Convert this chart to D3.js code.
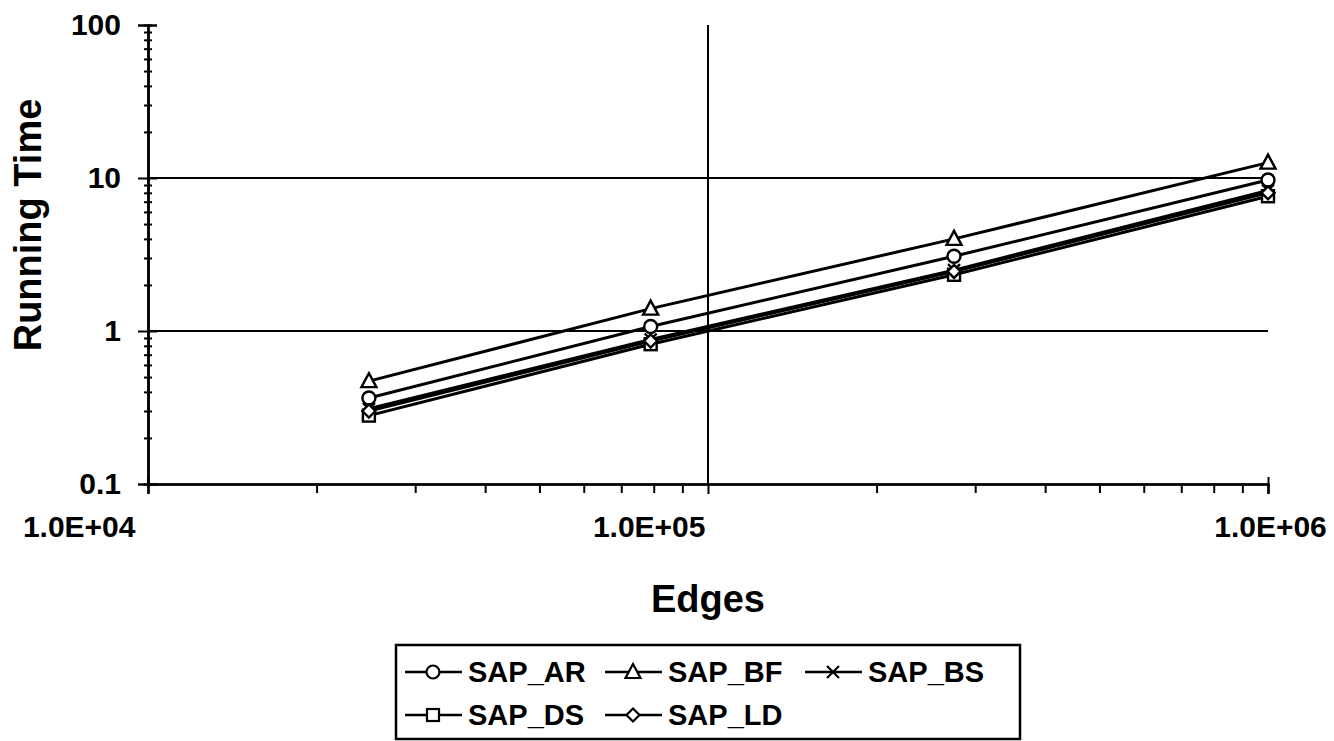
<!DOCTYPE html>
<html>
<head>
<meta charset="utf-8">
<script src="https://cdnjs.cloudflare.com/ajax/libs/d3/7.8.5/d3.min.js"></script>
<style>
  body { margin: 0; background: #fff; }
  svg { display: block; font-family: "Liberation Sans", Arial, sans-serif; font-weight: bold; }
</style>
</head>
<body>
<svg width="1334" height="741"></svg>
<script>
// values
var edges = [24800, 79000, 275000, 1000000];
var seriesNames = ["SAP_AR", "SAP_BF", "SAP_BS", "SAP_DS", "SAP_LD"];
var sapAR = [0.365, 1.07, 3.08, 9.7];
var sapBF = [0.47, 1.40, 4.0, 12.6];
var sapBS = [0.31, 0.88, 2.5, 8.3];
var sapDS = [0.28, 0.82, 2.33, 7.6];
var sapLD = [0.30, 0.86, 2.45, 8.0];
var yTicks = [0.1, 1, 10, 100];
var xTicks = [1e4, 1e5, 1e6];
var xTickLabels = ["1.0E+04", "1.0E+05", "1.0E+06"];

var seriesValues = [sapAR, sapBF, sapBS, sapDS, sapLD];
var markers = ["circle", "triangle", "cross", "square", "diamond"];

var svg = d3.select("svg");

var x = d3.scaleLog().domain([1e4, 1e6]).range([148, 1268]);
var y = d3.scaleLog().domain([0.1, 100]).range([484, 25]);

var minorX = [], minorY = [];
[1e4, 1e5].forEach(function(d) { for (var i = 2; i < 10; i++) minorX.push(d * i); });
[0.1, 1, 10].forEach(function(d) { for (var i = 2; i < 10; i++) minorY.push(d * i); });

// gridlines
svg.append("g").selectAll("line")
  .data([1, 10]).enter().append("line")
  .attr("x1", x(1e4)).attr("x2", x(1e6))
  .attr("y1", function(d) { return y(d); }).attr("y2", function(d) { return y(d); })
  .style("stroke", "#000").style("stroke-width", 2);
svg.append("line")
  .attr("x1", x(1e5)).attr("x2", x(1e5))
  .attr("y1", y(100)).attr("y2", y(0.1))
  .style("stroke", "#000").style("stroke-width", 2);

// y axis
var yAxisG = svg.append("g")
  .attr("transform", "translate(" + x(1e4) + ",0)")
  .call(d3.axisLeft(y).tickValues(yTicks).tickSize(10).tickPadding(17)
    .tickFormat(function(d) { return d < 1 ? "0.1" : d3.format("d")(d); }));
yAxisG.append("g").call(d3.axisRight(y).tickValues(yTicks).tickSize(9).tickFormat(""));
yAxisG.append("g").call(d3.axisRight(y).tickValues(minorY).tickSize(4).tickFormat(""));
yAxisG.append("g").call(d3.axisLeft(y).tickValues(minorY).tickSize(4).tickFormat(""));

// x axis
var xAxisG = svg.append("g")
  .attr("transform", "translate(0," + y(0.1) + ")")
  .call(d3.axisBottom(x).tickValues(xTicks).tickSize(10).tickPadding(22)
    .tickFormat(function(d, i) { return xTickLabels[i]; }));
xAxisG.append("g").call(d3.axisBottom(x).tickValues(minorX).tickSize(9).tickFormat(""));
xAxisG.append("g").call(d3.axisTop(x).tickValues([1e4]).tickSize(7).tickFormat(""));

svg.selectAll(".domain").style("stroke", "#000").style("stroke-width", 2);
svg.selectAll(".tick line").style("stroke", "#000").style("stroke-width", 2);
yAxisG.selectAll("text").style("font-size", "30px").style("font-family", "Liberation Sans").style("font-weight", "bold").style("fill", "#000");
xAxisG.selectAll("text").style("font-size", "30px").style("font-family", "Liberation Sans").style("font-weight", "bold").style("fill", "#000")
  .attr("text-anchor", function(d, i) { return i == 2 ? "middle" : "end"; })
  .attr("dx", function(d, i) { return i == 0 ? -13 : (i == 1 ? -3 : 2); });

// axis titles
svg.append("text")
  .attr("transform", "translate(41,225) rotate(-90)")
  .attr("text-anchor", "middle")
  .style("font-size", "38px")
  .text("Running Time");
svg.append("text")
  .attr("x", 708).attr("y", 612)
  .attr("text-anchor", "middle")
  .style("font-size", "38px")
  .text("Edges");

// markers
function drawMarker(g, type, cx, cy, s) {
  if (type == "circle") {
    g.append("circle").attr("cx", cx).attr("cy", cy).attr("r", 6.5 * s);
  } else if (type == "triangle") {
    g.append("path").attr("d", "M" + cx + "," + (cy - 8 * s) + "L" + (cx + 7.5 * s) + "," + (cy + 6 * s) + "L" + (cx - 7.5 * s) + "," + (cy + 6 * s) + "Z");
  } else if (type == "square") {
    g.append("rect").attr("x", cx - 6 * s).attr("y", cy - 6 * s).attr("width", 12 * s).attr("height", 12 * s);
  } else if (type == "diamond") {
    g.append("path").attr("d", "M" + cx + "," + (cy - 6.5 * s) + "L" + (cx + 6.5 * s) + "," + cy + "L" + cx + "," + (cy + 6.5 * s) + "L" + (cx - 6.5 * s) + "," + cy + "Z");
  } else if (type == "cross") {
    g.append("path").attr("d", "M" + (cx - 6 * s) + "," + (cy - 6 * s) + "L" + (cx + 6 * s) + "," + (cy + 6 * s) + "M" + (cx + 6 * s) + "," + (cy - 6 * s) + "L" + (cx - 6 * s) + "," + (cy + 6 * s));
  }
}

var line = d3.line()
  .x(function(d, i) { return x(edges[i]); })
  .y(function(d) { return y(d); });

seriesValues.forEach(function(vals) {
  svg.append("path").datum(vals)
    .attr("d", line)
    .style("fill", "none").style("stroke", "#000").style("stroke-width", 3);
});

seriesValues.forEach(function(vals, k) {
  var g = svg.append("g").style("fill", "#fff").style("stroke", "#000").style("stroke-width", 2.4);
  vals.forEach(function(v, i) { drawMarker(g, markers[k], x(edges[i]), y(v), 1); });
});

// legend
var legend = svg.append("g");
legend.append("rect")
  .attr("x", 396).attr("y", 645).attr("width", 624).attr("height", 94)
  .style("fill", "#fff").style("stroke", "#000").style("stroke-width", 2.5);
var legendPos = [[405, 672], [605, 672], [805, 672], [405, 715], [605, 715]];
seriesNames.forEach(function(name, k) {
  var lx = legendPos[k][0], ly = legendPos[k][1];
  legend.append("line").attr("x1", lx).attr("x2", lx + 57).attr("y1", ly).attr("y2", ly)
    .style("stroke", "#000").style("stroke-width", 2.5);
  var g = legend.append("g").style("fill", "#fff").style("stroke", "#000").style("stroke-width", 2.2);
  drawMarker(g, markers[k], lx + 28, ly, 1);
  legend.append("text").attr("x", lx + 63).attr("y", ly + 10)
    .style("font-size", "29px").text(name);
});
</script>
</body>
</html>
